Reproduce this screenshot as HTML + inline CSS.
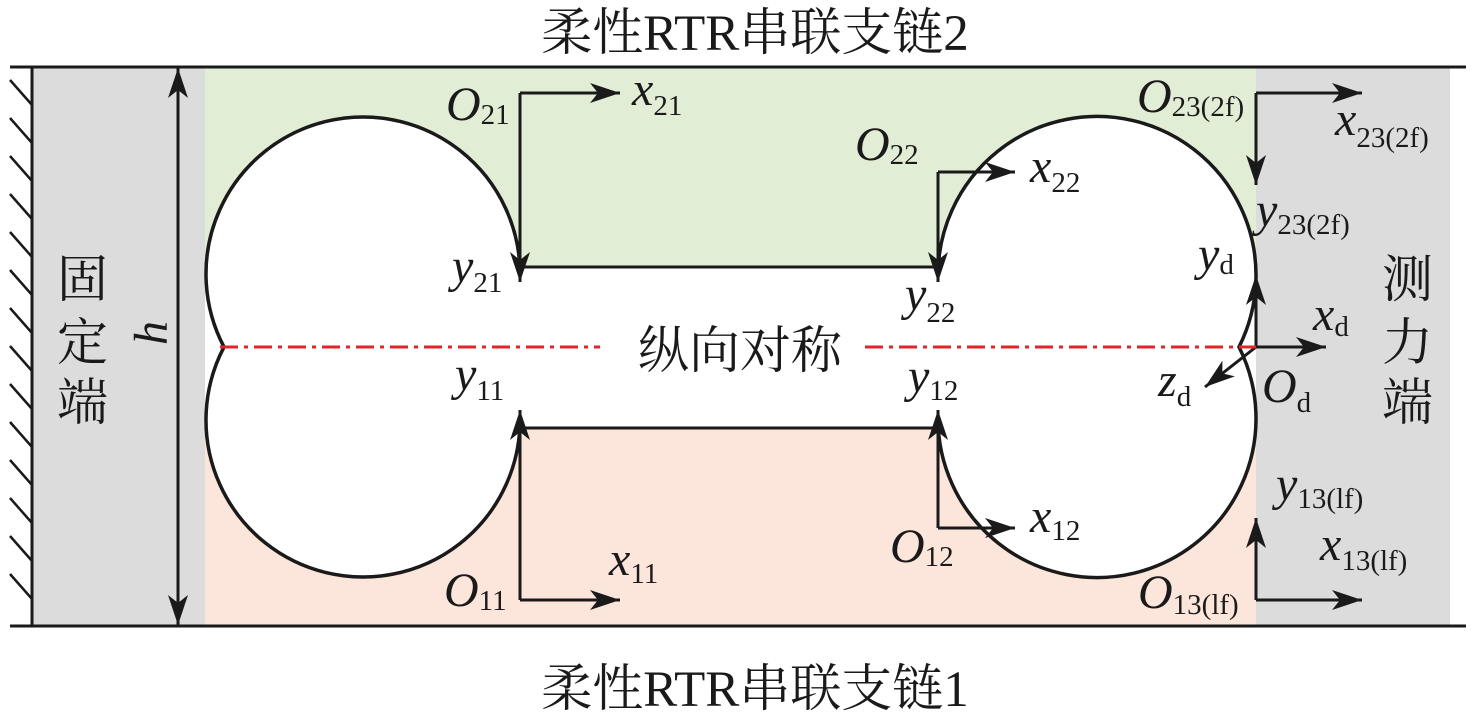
<!DOCTYPE html>
<html><head><meta charset="utf-8"><style>
body{margin:0;background:#fff}
svg{display:block}
text{font-family:"Liberation Serif","Noto Serif CJK SC",serif;fill:#1a1a1a}
.l{font-style:italic;font-size:48px}
.s{font-style:normal;font-size:29px}
.c{font-family:"Liberation Serif","Noto Serif CJK SC","Noto Sans CJK SC",serif;font-size:51px}
</style></head><body>
<svg width="1476" height="715" viewBox="0 0 1476 715" xmlns="http://www.w3.org/2000/svg">
<defs>
<marker id="a" viewBox="0 0 30 20" refX="30" refY="10" markerWidth="30" markerHeight="20" markerUnits="userSpaceOnUse" orient="auto">
<path d="M0,0 L30,10 L0,20 L8,10 Z" fill="#1a1a1a"/></marker>
</defs>
<rect x="32" y="67" width="173" height="559" fill="#dcdcdc"/>
<rect x="1256" y="67" width="194" height="559" fill="#dcdcdc"/>
<rect x="205" y="67" width="1051" height="200" fill="#e2edd5"/>
<rect x="205" y="428" width="1051" height="198" fill="#fce5da"/>
<rect x="205" y="267" width="1051" height="161" fill="#fff"/>
<path d="M520,274 A157,157 0 1,0 224,347 A157,157 0 1,0 520,420" fill="#fff" stroke="#1a1a1a" stroke-width="3.5"/>
<path d="M938,276 A159,159 0 1,1 1239,347 A159,159 0 1,1 938,419" fill="#fff" stroke="#1a1a1a" stroke-width="3.5"/>
<rect x="520" y="268" width="420" height="158" fill="#fff"/>
<path d="M520,267 H940 M520,428 H940" stroke="#1a1a1a" stroke-width="3"/>
<path d="M10,67 H1466 M10,626 H1466 M32,67 V626" stroke="#1a1a1a" stroke-width="3"/>
<g stroke="#1a1a1a" stroke-width="2.5">
<path d="M10,80 l22,25 M10,118 l22,25 M10,156 l22,25 M10,194 l22,25 M10,232 l22,25 M10,270 l22,25 M10,308 l22,25 M10,346 l22,25 M10,384 l22,25 M10,422 l22,25 M10,460 l22,25 M10,498 l22,25 M10,536 l22,25 M10,574 l22,25"/>
</g>
<g stroke="#1a1a1a" stroke-width="3" fill="none">
<line x1="178" y1="347" x2="178" y2="68" marker-end="url(#a)"/>
<line x1="178" y1="347" x2="178" y2="625" marker-end="url(#a)"/>
<path d="M520,93 H620" marker-end="url(#a)"/>
<path d="M520,93 V282" marker-end="url(#a)"/>
<path d="M938,172 H1015" marker-end="url(#a)"/>
<path d="M938,172 V282" marker-end="url(#a)"/>
<path d="M1256,93 H1362" marker-end="url(#a)"/>
<path d="M1256,93 V185" marker-end="url(#a)"/>
<path d="M1256,347 V275" marker-end="url(#a)"/>
<path d="M1256,347 H1326" marker-end="url(#a)"/>
<path d="M1256,347 L1205,387" marker-end="url(#a)"/>
<path d="M520,600 H620" marker-end="url(#a)"/>
<path d="M520,600 V410" marker-end="url(#a)"/>
<path d="M938,528 H1015" marker-end="url(#a)"/>
<path d="M938,528 V410" marker-end="url(#a)"/>
<path d="M1256,600 H1362" marker-end="url(#a)"/>
<path d="M1256,600 V518" marker-end="url(#a)"/>
</g>
<path d="M220,347 H600 M865,347 H1256" stroke="#e0262a" stroke-width="3" stroke-dasharray="18,6,4,6"/>
<text class="c" x="755" y="50" text-anchor="middle">柔性RTR串联支链2</text>
<text class="c" x="755" y="706" text-anchor="middle">柔性RTR串联支链1</text>
<text class="c" x="740" y="368" text-anchor="middle">纵向对称</text>
<text class="c" x="57" y="297">固</text>
<text class="c" x="57" y="360">定</text>
<text class="c" x="57" y="420">端</text>
<text class="c" x="1382" y="297">测</text>
<text class="c" x="1382" y="360">力</text>
<text class="c" x="1382" y="420">端</text>
<text class="l" x="150" y="362" transform="rotate(-90 150 345)">h</text>
<text class="l" x="446" y="120">O<tspan class="s" dy="4">21</tspan></text>
<text class="l" x="632" y="105">x<tspan class="s" dy="10">21</tspan></text>
<text class="l" x="452" y="282">y<tspan class="s" dy="10">21</tspan></text>
<text class="l" x="855" y="160">O<tspan class="s" dy="4">22</tspan></text>
<text class="l" x="1030" y="182">x<tspan class="s" dy="10">22</tspan></text>
<text class="l" x="905" y="310">y<tspan class="s" dy="12">22</tspan></text>
<text class="l" x="1137" y="112">O<tspan class="s" dy="4">23(2f)</tspan></text>
<text class="l" x="1335" y="135">x<tspan class="s" dy="12">23(2f)</tspan></text>
<text class="l" x="1256" y="226">y<tspan class="s" dy="8">23(2f)</tspan></text>
<text class="l" x="1198" y="270">y<tspan class="s" dy="4">d</tspan></text>
<text class="l" x="1313" y="330">x<tspan class="s" dy="6">d</tspan></text>
<text class="l" x="1158" y="396">z<tspan class="s" dy="10">d</tspan></text>
<text class="l" x="1262" y="402">O<tspan class="s" dy="10">d</tspan></text>
<text class="l" x="455" y="390">y<tspan class="s" dy="10">11</tspan></text>
<text class="l" x="444" y="606">O<tspan class="s" dy="4">11</tspan></text>
<text class="l" x="609" y="575">x<tspan class="s" dy="8">11</tspan></text>
<text class="l" x="908" y="392">y<tspan class="s" dy="8">12</tspan></text>
<text class="l" x="890" y="562">O<tspan class="s" dy="4">12</tspan></text>
<text class="l" x="1030" y="532">x<tspan class="s" dy="8">12</tspan></text>
<text class="l" x="1276" y="500">y<tspan class="s" dy="8">13(lf)</tspan></text>
<text class="l" x="1320" y="560">x<tspan class="s" dy="10">13(lf)</tspan></text>
<text class="l" x="1138" y="608">O<tspan class="s" dy="6">13(lf)</tspan></text>
</svg>
</body></html>
